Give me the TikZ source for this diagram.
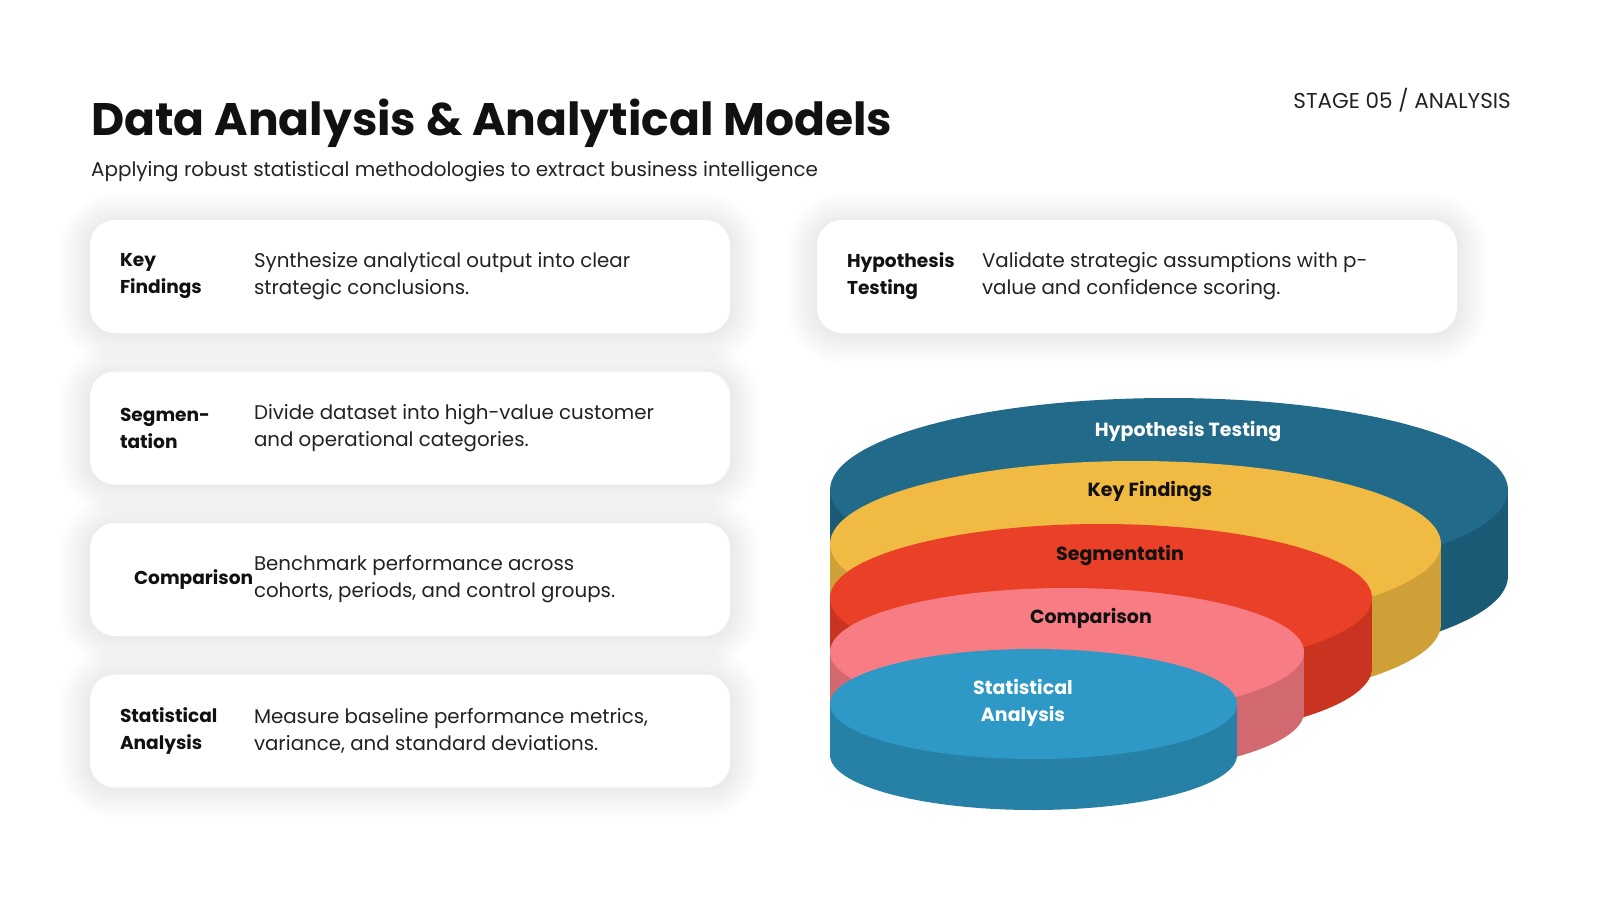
\documentclass[tikz,border=0pt]{standalone}
\usepackage{fontspec}
\setmainfont{Poppins}
\usetikzlibrary{positioning}

\definecolor{ink}{HTML}{111111}
\definecolor{txt}{HTML}{222222}
\definecolor{htTop}{HTML}{216A8A}
\definecolor{htSide}{HTML}{1B5A74}
\definecolor{kfTop}{HTML}{F1BA42}
\definecolor{kfSide}{HTML}{D0A038}
\definecolor{sgTop}{HTML}{E94027}
\definecolor{sgSide}{HTML}{C8341F}
\definecolor{cpTop}{HTML}{F87C84}
\definecolor{cpSide}{HTML}{D26970}
\definecolor{saTop}{HTML}{2E98C6}
\definecolor{saSide}{HTML}{2780A6}

\pgfdeclarelayer{bg}
\pgfsetlayers{bg,main}

\begin{document}
\begin{tikzpicture}[x=1pt, y=-1pt,
card/.style={rectangle, rounded corners=25pt, fill=white,
  minimum width=640pt, minimum height=113pt, on grid},
lbl/.style={font=\bfseries\fontsize{18.6}{27}\selectfont, align=left,
  inner sep=0pt, text=ink},
desc/.style={font=\fontsize{19.8}{27}\selectfont, align=left,
  inner sep=0pt, text=txt},
disclbl/.style={font=\bfseries\fontsize{19}{27}\selectfont, align=center,
  inner sep=0pt, text=ink}
]
\useasboundingbox (0,0) rectangle (1600,900);

% heading
\node[anchor=base west, inner sep=0pt, text=ink,
  font=\bfseries\fontsize{45.6}{54}\selectfont] (title) at (91,135)
  {Data Analysis \& Analytical Models};
\node[anchor=base west, inner sep=0pt, text=txt,
  font=\fontsize{19.9}{24}\selectfont] (subtitle) at (91,176)
  {Applying robust statistical methodologies to extract business intelligence};
\node[anchor=base east, inner sep=0pt, text=txt,
  font=\fontsize{21.5}{26}\selectfont] (stage) at (1511,108)
  {STAGE 05 / ANALYSIS};

% cards
\node[card] (kf) at (410,276.5) {};
\node[card] (sg) [below=151.5pt of kf] {};
\node[card] (cp) [below=151.5pt of sg] {};
\node[card] (sa) [below=151.5pt of cp] {};
\node[card] (ht) [right=727pt of kf] {};

\begin{pgfonlayer}{bg}
\foreach \c in {kf,sg,cp,sa,ht}
  \foreach \s [evaluate=\s as \d using \s+4] in {3,6,...,30}
    \fill[black, opacity=0.006, rounded corners=25pt+\s pt]
      ([xshift=-\s pt, yshift=-\d pt]\c.south west) rectangle
      ([xshift=\s pt, yshift=\s pt-4pt]\c.north east);
\end{pgfonlayer}

\node[lbl] (kflbl) [right=30pt of kf.west] {Key\\Findings};
\node[desc] (kfdesc) [right=164pt of kf.west]
  {Synthesize analytical output into clear\\strategic conclusions.};
\node[lbl] (sglbl) [right=30pt of sg.west] {Segmen-\\tation};
\node[desc] (sgdesc) [right=164pt of sg.west]
  {Divide dataset into high-value customer\\and operational categories.};
\node[lbl] (cplbl) [right=44pt of cp.west] {Comparison};
\node[desc] (cpdesc) [right=164pt of cp.west]
  {Benchmark performance across\\cohorts, periods, and control groups.};
\node[lbl] (salbl) [right=30pt of sa.west] {Statistical\\Analysis};
\node[desc] (sadesc) [right=164pt of sa.west]
  {Measure baseline performance metrics,\\variance, and standard deviations.};
\node[lbl] (htlbl) [right=30pt of ht.west] {Hypothesis\\Testing};
\node[desc] (htdesc) [right=165pt of ht.west]
  {Validate strategic assumptions with p-\\value and confidence scoring.};

% stacked discs, back to front
\foreach \cx/\cy/\rx/\ry/\dz/\ctop/\cside in
  {1169/490/339/92/86/htTop/htSide,
   1135.5/544/305.5/83/80/kfTop/kfSide,
   1101/598/271/74/70/sgTop/sgSide,
   1067/652/237/64/60/cpTop/cpSide,
   1033.5/704/203.5/55/51/saTop/saSide}
{
  \fill[\cside] (\cx,\cy+\dz) ellipse [x radius=\rx, y radius=\ry];
  \fill[\cside] (\cx-\rx,\cy) rectangle (\cx+\rx,\cy+\dz);
  \fill[\ctop] (\cx,\cy) ellipse [x radius=\rx, y radius=\ry];
}

\node[disclbl, text=white] (htdisc) at (1188,431.5) {Hypothesis Testing};
\node[disclbl] (kfdisc) at (1150,491.5) {Key Findings};
\node[disclbl] (sgdisc) at (1120,555) {Segmentatin};
\node[disclbl] (cpdisc) at (1091,618) {Comparison};
\node[disclbl, text=white] (sadisc) at (1023,702.5) {Statistical\\Analysis};
\end{tikzpicture}
\end{document}
